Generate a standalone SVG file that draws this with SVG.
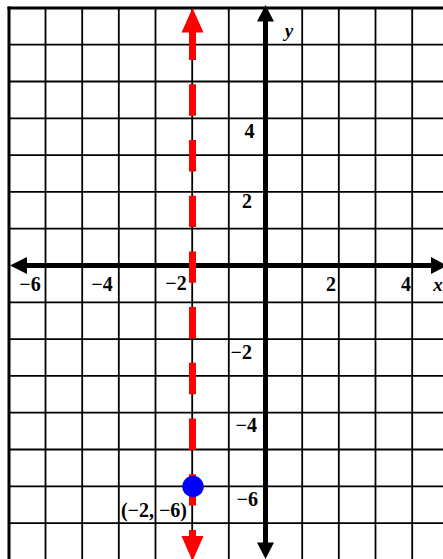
<svg xmlns="http://www.w3.org/2000/svg" width="443" height="559" viewBox="0 0 443 559">
<style>
.g{stroke:#000;stroke-width:1.8;fill:none}
.b{stroke:#000;stroke-width:3;fill:none}
.ax{stroke:#000;stroke-width:5}
.lbl{font-family:"Liberation Serif",serif;font-weight:bold;font-size:20px;fill:#000}
.it{font-family:"Liberation Serif",serif;font-style:italic;font-weight:bold;font-size:19px;fill:#000}
.m{text-anchor:middle}
.e{text-anchor:end}
</style>
<rect width="443" height="559" fill="#fff"/>
<g id="grid">
<line class="g" x1="45.5" y1="8" x2="45.5" y2="559"/>
<line class="g" x1="82.2" y1="8" x2="82.2" y2="559"/>
<line class="g" x1="118.8" y1="8" x2="118.8" y2="559"/>
<line class="g" x1="155.5" y1="8" x2="155.5" y2="559"/>
<line class="g" x1="192.2" y1="8" x2="192.2" y2="559"/>
<line class="g" x1="228.8" y1="8" x2="228.8" y2="559"/>
<line class="g" x1="302.2" y1="8" x2="302.2" y2="559"/>
<line class="g" x1="338.8" y1="8" x2="338.8" y2="559"/>
<line class="g" x1="375.5" y1="8" x2="375.5" y2="559"/>
<line class="g" x1="412.2" y1="8" x2="412.2" y2="559"/>
<line class="g" x1="9" y1="44.7" x2="443" y2="44.7"/>
<line class="g" x1="9" y1="81.5" x2="443" y2="81.5"/>
<line class="g" x1="9" y1="118.3" x2="443" y2="118.3"/>
<line class="g" x1="9" y1="155.1" x2="443" y2="155.1"/>
<line class="g" x1="9" y1="191.9" x2="443" y2="191.9"/>
<line class="g" x1="9" y1="228.7" x2="443" y2="228.7"/>
<line class="g" x1="9" y1="302.3" x2="443" y2="302.3"/>
<line class="g" x1="9" y1="339.1" x2="443" y2="339.1"/>
<line class="g" x1="9" y1="375.9" x2="443" y2="375.9"/>
<line class="g" x1="9" y1="412.7" x2="443" y2="412.7"/>
<line class="g" x1="9" y1="449.5" x2="443" y2="449.5"/>
<line class="g" x1="9" y1="486.3" x2="443" y2="486.3"/>
<line class="g" x1="9" y1="523.1" x2="443" y2="523.1"/>
<line class="b" x1="9" y1="6.5" x2="9" y2="559"/>
<line class="b" x1="7.5" y1="8" x2="443" y2="8"/>
</g>
<g id="axes">
<line class="ax" x1="25" y1="265.5" x2="433" y2="265.5"/>
<polygon points="10,265.5 27,257 27,274" fill="#000"/>
<polygon points="447,265.5 431,257 431,274" fill="#000"/>
<line class="ax" x1="265.5" y1="20" x2="265.5" y2="544"/>
<polygon points="265.5,5 257,21.5 274,21.5" fill="#000"/>
<polygon points="265.5,559 257,542.5 274,542.5" fill="#000"/>
</g>
<g id="connectors">
<line x1="192.5" y1="32" x2="192.5" y2="536" stroke="#ff0000" stroke-width="7" stroke-dasharray="31.4 24.3" stroke-dashoffset="3.4"/>
<polygon points="192.5,8 181.5,32.5 203.5,32.5" fill="#ff0000"/>
<polygon points="181.5,536 203.5,536 192.5,561" fill="#ff0000"/>
</g>
<g id="point">
<circle cx="193" cy="486.5" r="10.7" fill="#0000ff"/>
<text class="lbl e" x="187" y="516.7">(−2, −6)</text>
</g>
<g id="labels">
<text class="lbl m" x="30" y="291">−6</text>
<text class="lbl m" x="102" y="291">−4</text>
<text class="lbl m" x="176" y="290">−2</text>
<text class="lbl m" x="331" y="290.5">2</text>
<text class="lbl m" x="406" y="290.5">4</text>
<text class="it m" x="438" y="291">x</text>
<text class="it m" x="289" y="37">y</text>
<text class="lbl e" x="254.5" y="137.7">4</text>
<text class="lbl e" x="252" y="208.3">2</text>
<text class="lbl e" x="252" y="359">−2</text>
<text class="lbl e" x="257" y="432.3">−4</text>
<text class="lbl e" x="258" y="505.7">−6</text>
</g>
</svg>
